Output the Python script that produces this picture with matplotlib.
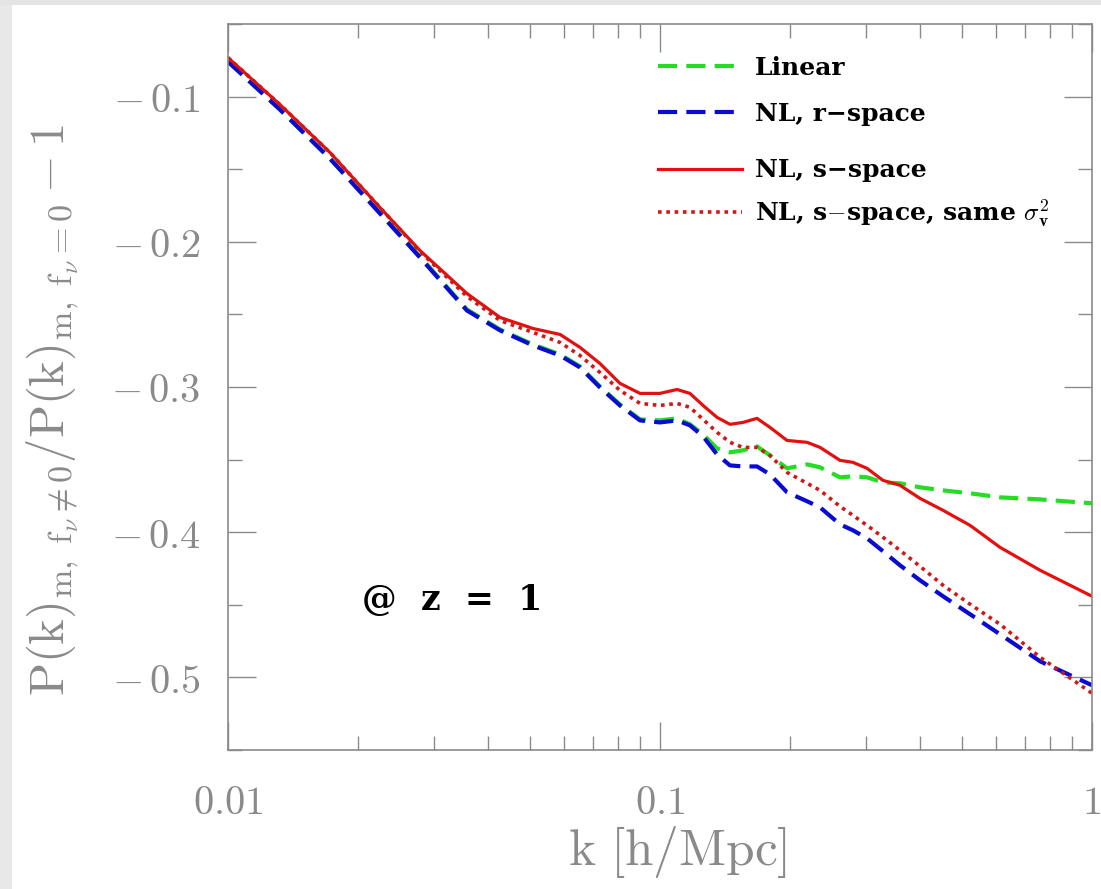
import numpy as np
import matplotlib.pyplot as plt
from matplotlib.lines import Line2D
from matplotlib.patches import Rectangle
from matplotlib.ticker import FixedLocator, NullFormatter

plt.rcParams['mathtext.fontset'] = 'cm'

# wavenumbers k [h/Mpc]
k = [0.0100, 0.01319, 0.01722, 0.02248, 0.02782, 0.03573, 0.04263, 0.05082,
     0.05870, 0.06528, 0.07262, 0.08078, 0.08989, 0.1000, 0.1095, 0.1173,
     0.1258, 0.1355, 0.1452, 0.1556, 0.1677, 0.1797, 0.1968, 0.2190,
     0.2347, 0.2610, 0.2797, 0.3014, 0.3282, 0.3594, 0.3998, 0.4519,
     0.5221, 0.6124, 0.7582, 1.0]

# P(k)_{fnu!=0} / P(k)_{fnu=0} - 1
linear = [-0.0759, -0.1089, -0.1427, -0.1798, -0.2101, -0.2466, -0.2604, -0.2707,
          -0.2776, -0.2858, -0.2996, -0.3120, -0.3223, -0.3230, -0.3216, -0.3257,
          -0.3326, -0.3423, -0.3450, -0.3436, -0.3409, -0.3471, -0.3560, -0.3533,
          -0.3553, -0.3622, -0.3615, -0.3622, -0.3657, -0.3663, -0.3691, -0.3712,
          -0.3732, -0.3760, -0.3774, -0.3801]
nl_real = [-0.0759, -0.1089, -0.1427, -0.1805, -0.2108, -0.2473, -0.2610, -0.2714,
           -0.2783, -0.2865, -0.3003, -0.3127, -0.3230, -0.3244, -0.3230, -0.3264,
           -0.3340, -0.3464, -0.3540, -0.3547, -0.3547, -0.3602, -0.3725, -0.3787,
           -0.3829, -0.3946, -0.3987, -0.4042, -0.4131, -0.4228, -0.4331, -0.4441,
           -0.4565, -0.4703, -0.4889, -0.5054]
nl_red = [-0.0732, -0.1055, -0.1385, -0.1764, -0.2060, -0.2356, -0.2521, -0.2597,
          -0.2638, -0.2727, -0.2838, -0.2975, -0.3044, -0.3044, -0.3017, -0.3044,
          -0.3127, -0.3209, -0.3257, -0.3244, -0.3216, -0.3278, -0.3368, -0.3381,
          -0.3416, -0.3505, -0.3519, -0.3560, -0.3643, -0.3677, -0.3767, -0.3849,
          -0.3953, -0.4104, -0.4262, -0.4441]
nl_red_sig = [-0.0732, -0.1055, -0.1385, -0.1764, -0.2067, -0.2376, -0.2542, -0.2624,
              -0.2693, -0.2783, -0.2900, -0.3023, -0.3113, -0.3127, -0.3113, -0.3140,
              -0.3223, -0.3312, -0.3381, -0.3416, -0.3416, -0.3471, -0.3588, -0.3663,
              -0.3712, -0.3822, -0.3884, -0.3953, -0.4035, -0.4125, -0.4235, -0.4365,
              -0.4496, -0.4634, -0.4861, -0.5109]

GREEN = '#22dd22'
BLUE = '#0a0ad2'
RED = '#e41010'
DRED = '#d01818'
GREY = '#8a8a8a'

DASH = (4.6, 2.2)
DOT = (0, (1, 1.3))

fig = plt.figure(figsize=(11.01, 8.89), dpi=100)
fig.patch.set_facecolor('white')
# light grey strips on the left and top edges
fig.patches.append(Rectangle((0, 0), 12 / 1101, 1, transform=fig.transFigure,
                             facecolor='#e8e8e8', edgecolor='none', zorder=-10))
fig.patches.append(Rectangle((0, 1 - 5 / 889), 1, 5 / 889, transform=fig.transFigure,
                             facecolor='#e4e4e4', edgecolor='none', zorder=-10))

ax = fig.add_axes([228 / 1101, 1 - 750 / 889, 864 / 1101, 726 / 889])

ax.plot(k, linear, color=GREEN, lw=3.0, dashes=DASH)
ax.plot(k, nl_real, color=BLUE, lw=3.0, dashes=DASH)
ax.plot(k, nl_red, color=RED, lw=2.3, solid_joinstyle='round')
ax.plot(k, nl_red_sig, color=DRED, lw=2.6, linestyle=DOT)

ax.set_xscale('log')
ax.set_xlim(0.01, 1)
ax.set_ylim(-0.55, -0.05)

ax.xaxis.set_major_locator(FixedLocator([0.01, 0.1, 1]))
ax.xaxis.set_minor_locator(FixedLocator([m * d for d in (0.01, 0.1) for m in range(2, 10)]))
ax.xaxis.set_minor_formatter(NullFormatter())
ax.set_xticklabels([r'$\mathrm{0.01}$', r'$\mathrm{0.1}$', r'$\mathrm{1}$'])

yt = [-0.1, -0.2, -0.3, -0.4, -0.5]
ax.yaxis.set_major_locator(FixedLocator(yt))
ax.yaxis.set_minor_locator(FixedLocator([-0.05, -0.15, -0.25, -0.35, -0.45, -0.55]))
ax.set_yticklabels([r'$-\,\mathrm{%.1f}$' % abs(v) for v in yt])

for side in ax.spines.values():
    side.set_color(GREY)
    side.set_linewidth(1.2)
ax.tick_params(which='both', direction='in', top=True, right=True, color=GREY, width=1.0)
ax.tick_params(which='major', length=20, labelsize=29, labelcolor=GREY)
ax.tick_params(which='minor', length=10)
ax.tick_params(axis='x', which='major', pad=24)
ax.tick_params(axis='y', which='major', pad=20)

ax.set_xlabel(r'$\mathrm{k\ [h/Mpc]}$', fontsize=37, color=GREY)
ax.xaxis.set_label_coords(0.52, -0.102)
ax.set_ylabel(r'$\mathrm{P(k)_{m,\ f_\nu\neq0}/P(k)_{m,\ f_\nu=0}-1}$',
              fontsize=35, color=GREY)
ax.yaxis.set_label_coords(-0.17, 0.468)

ax.text(0.155, 0.207, '@  z  =  1', transform=ax.transAxes, fontsize=25,
        fontweight='bold', family='DejaVu Serif', va='center', ha='left')

legend_font = {'family': 'DejaVu Serif', 'weight': 'bold', 'size': 18}
leg_kw = dict(prop=legend_font, frameon=False, loc='upper left', borderpad=0,
              borderaxespad=0, handlelength=3.36, handletextpad=0.52)
h_top = [Line2D([], [], color=GREEN, lw=3.0, dashes=DASH),
         Line2D([], [], color=BLUE, lw=3.0, dashes=DASH)]
h_bot = [Line2D([], [], color=RED, lw=2.3),
         Line2D([], [], color=DRED, lw=2.6, linestyle=DOT)]
leg1 = ax.legend(h_top, ['Linear', 'NL, r\u2212space'],
                 bbox_to_anchor=(0.498, 0.956), labelspacing=0.88, **leg_kw)
ax.add_artist(leg1)
ax.legend(h_bot, ['NL, s\u2212space', r'NL, s$-$space, same $\sigma^2_\mathbf{v}$'],
          bbox_to_anchor=(0.498, 0.815), labelspacing=0.61, **leg_kw)

fig.savefig('out.png', dpi=100)
